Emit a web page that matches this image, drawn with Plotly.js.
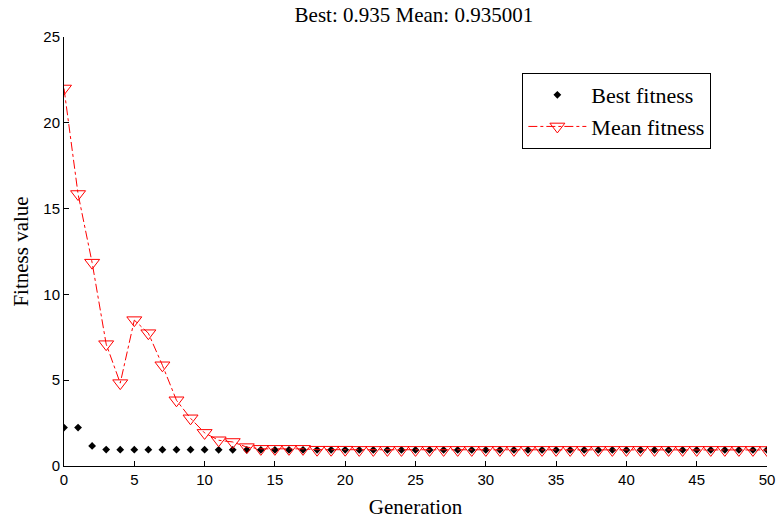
<!DOCTYPE html>
<html>
<head>
<meta charset="utf-8">
<script src="https://cdn.plot.ly/plotly-3.0.1.min.js"></script>
<style>body{margin:0;background:#fff}#chart{width:778px;height:523px}</style>
</head>
<body>
<div id="chart"></div>
<script>
const generations = Array.from({length: 51}, (_, i) => i);
const bestFitness = [2.24, 2.24, 1.17, 0.96, 0.95, 0.95, 0.95, 0.95, 0.95, 0.95, 0.95,
  0.94, 0.94, 0.94, 0.94, 0.94, 0.94, 0.94, 0.94, 0.94, 0.94,
  0.935, 0.935, 0.935, 0.935, 0.935, 0.935, 0.935, 0.935, 0.935, 0.935,
  0.935, 0.935, 0.935, 0.935, 0.935, 0.935, 0.935, 0.935, 0.935, 0.935,
  0.935, 0.935, 0.935, 0.935, 0.935, 0.935, 0.935, 0.935, 0.935, 0.935];
const meanFitness = [22.0, 15.85, 11.85, 7.1, 4.83, 8.5, 7.74, 5.87, 3.83, 2.78, 1.93,
  1.5, 1.4, 1.1, 1.0, 1.0, 1.0, 1.0, 0.95, 0.95, 0.95,
  0.94, 0.94, 0.94, 0.94, 0.94, 0.94, 0.94, 0.94, 0.94, 0.94,
  0.94, 0.94, 0.94, 0.94, 0.94, 0.94, 0.94, 0.94, 0.94, 0.94,
  0.94, 0.94, 0.94, 0.94, 0.94, 0.94, 0.94, 0.94, 0.94, 0.935001];
const titleText = 'Best: 0.935 Mean: 0.935001';
const xTicks = [0, 5, 10, 15, 20, 25, 30, 35, 40, 45, 50];
const yTicks = [0, 5, 10, 15, 20, 25];

const serif = {family: '"Liberation Serif", "Times New Roman", serif', color: '#000'};
const sans = {family: '"Liberation Sans", Arial, sans-serif', color: '#000', size: 15};

const traces = [
  {
    x: generations, y: bestFitness, name: 'Best fitness', mode: 'markers', type: 'scatter',
    marker: {symbol: 'diamond', size: 6, color: '#000'}
  },
  {
    x: generations, y: meanFitness, name: 'Mean fitness', mode: 'lines+markers', type: 'scatter',
    line: {color: '#ff0000', width: 1, dash: 'dashdot'},
    marker: {symbol: 'triangle-down-open', size: 13, color: '#ff0000', line: {width: 1, color: '#ff0000'}}
  }
];

const layout = {
  width: 778, height: 523,
  margin: {l: 64, r: 11, t: 37, b: 57},
  paper_bgcolor: '#fff', plot_bgcolor: '#fff',
  font: Object.assign({size: 15}, serif),
  title: {text: titleText, x: 0.532, xanchor: 'center', y: 0.972, yanchor: 'middle', font: Object.assign({size: 21}, serif)},
  showlegend: true,
  legend: {x: 0.652, y: 0.916, xanchor: 'left', yanchor: 'top', bordercolor: '#000', borderwidth: 1, bgcolor: '#fff',
    font: Object.assign({size: 22}, serif), tracegroupgap: 0, itemwidth: 58},
  xaxis: {
    range: [0, 50], tickvals: xTicks, ticktext: xTicks.map(String), ticks: 'inside', ticklen: 5, tickcolor: '#000',
    tickfont: sans,
    showline: true, linecolor: '#000', linewidth: 1, showgrid: false, zeroline: false, mirror: false,
    title: {text: 'Generation', font: Object.assign({size: 21}, serif), standoff: 12}
  },
  yaxis: {
    range: [0, 25], tickvals: yTicks, ticktext: yTicks.map(String), ticks: 'inside', ticklen: 5, tickcolor: '#000',
    tickfont: sans,
    showline: true, linecolor: '#000', linewidth: 1, showgrid: false, zeroline: false, mirror: false,
    title: {text: 'Fitness value', font: Object.assign({size: 21}, serif), standoff: 8}
  }
};

Plotly.newPlot('chart', traces, layout, {displayModeBar: false, staticPlot: true});
</script>
</body>
</html>
